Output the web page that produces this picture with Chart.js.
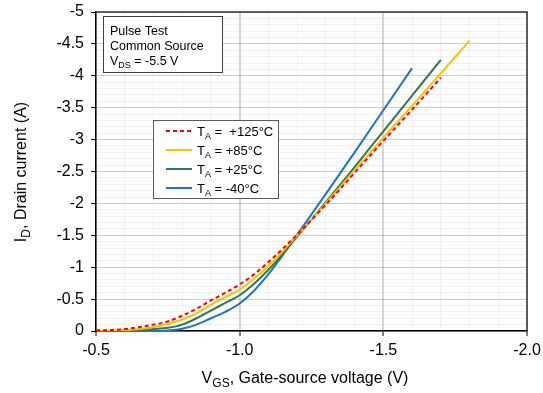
<!DOCTYPE html>
<html>
<head>
<meta charset="utf-8">
<script src="https://cdn.jsdelivr.net/npm/chart.js@4.4.0/dist/chart.umd.min.js"></script>
<style>
  html, body { margin: 0; padding: 0; background: #fff; }
  #wrap { width: 543px; height: 393px; }
</style>
</head>
<body>
<div id="wrap"><canvas id="grafico1" width="543" height="393"></canvas></div>
<script>
// gate-source voltage (V), shared by every series
const vgs = [-0.5, -0.55, -0.6, -0.65, -0.7, -0.75, -0.8, -0.85, -0.9, -0.95, -1.0,
             -1.05, -1.1, -1.15, -1.2, -1.3, -1.4, -1.5, -1.6, -1.7, -1.8];

// drain current (A) per temperature
const id125 = [-0.01, -0.015, -0.03, -0.06, -0.10, -0.15, -0.24, -0.35, -0.48, -0.60, -0.73,
               -0.89, -1.08, -1.29, -1.51, -1.98, -2.48, -2.98, -3.47, -3.97];
const id85  = [0, -0.005, -0.015, -0.03, -0.06, -0.11, -0.18, -0.28, -0.41, -0.53, -0.65,
               -0.82, -1.02, -1.25, -1.50, -2.00, -2.52, -3.03, -3.53, -4.04, -4.55];
const id25  = [0, 0, -0.005, -0.015, -0.03, -0.05, -0.10, -0.20, -0.32, -0.44, -0.56,
               -0.74, -0.96, -1.21, -1.48, -2.02, -2.57, -3.13, -3.69, -4.25];
const idM40 = [0, 0, 0, 0, 0, -0.008, -0.035, -0.10, -0.20, -0.30, -0.43,
               -0.63, -0.89, -1.19, -1.51, -2.15, -2.80, -3.46, -4.12];

const tempLabels = ['+125°C', '+85°C', '+25°C', '-40°C'];
const xTicks = [-0.5, -1.0, -1.5, -2.0];
const yTicks = [0, -0.5, -1, -1.5, -2, -2.5, -3, -3.5, -4, -4.5, -5];
const noteLines = ['Pulse Test', 'Common Source', 'V_DS = -5.5 V'];

const FONT = "'Liberation Sans', Arial, sans-serif";

function pts(vals) {
    return vals.map((v, i) => ({ x: vgs[i], y: v }));
}
function isMajor(v, step) {
    const r = v / step;
    return Math.abs(r - Math.round(r)) < 1e-6;
}

// text with "_XX" subscripts
function drawRich(ctx, str, x, y, size, align) {
    const parts = [];
    str.split(/(_[A-Z]+)/).forEach(s => {
        if (!s) return;
        if (s[0] === '_') parts.push([s.slice(1), true]);
        else parts.push([s, false]);
    });
    const subSize = Math.round(size * 0.72);
    let w = 0;
    parts.forEach(p => {
        ctx.font = (p[1] ? subSize : size) + 'px ' + FONT;
        p.push(ctx.measureText(p[0]).width);
        w += p[2];
    });
    let cx = align === 'center' ? x - w / 2 : x;
    ctx.textAlign = 'left';
    ctx.textBaseline = 'alphabetic';
    parts.forEach(p => {
        ctx.font = (p[1] ? subSize : size) + 'px ' + FONT;
        ctx.fillText(p[0], cx, p[1] ? y + size * 0.22 : y);
        cx += p[2];
    });
}

const extras = {
    id: 'extras',
    afterDraw(chart) {
        const ctx = chart.ctx;
        const a = chart.chartArea;
        ctx.save();
        // top and right frame
        ctx.strokeStyle = '#333';
        ctx.lineWidth = 1.5;
        ctx.beginPath();
        ctx.moveTo(a.left, a.top);
        ctx.lineTo(a.right, a.top);
        ctx.lineTo(a.right, a.bottom);
        ctx.stroke();

        // note box
        ctx.fillStyle = '#fff';
        ctx.fillRect(103, 16, 119, 56);
        ctx.strokeStyle = '#404040';
        ctx.lineWidth = 1;
        ctx.strokeRect(103.5, 16.5, 119, 56);
        ctx.fillStyle = '#000';
        noteLines.forEach((t, i) => drawRich(ctx, t, 110, 35 + i * 15, 12.5, 'left'));

        // legend box
        ctx.fillStyle = '#fff';
        ctx.fillRect(153, 120, 125, 78);
        ctx.strokeStyle = '#595959';
        ctx.strokeRect(153.5, 120.5, 125, 78);
        chart.data.datasets.forEach((ds, i) => {
            const y = 131 + i * 19;
            ctx.strokeStyle = ds.borderColor;
            ctx.lineWidth = 2;
            ctx.setLineDash(ds.borderDash || []);
            ctx.beginPath();
            ctx.moveTo(166, y);
            ctx.lineTo(192, y);
            ctx.stroke();
            ctx.setLineDash([]);
            ctx.fillStyle = '#000';
            const sep = i === 0 ? ' =  ' : ' = ';
            drawRich(ctx, 'T_A' + sep + tempLabels[i], 197, y + 5, 13, 'left');
        });

        // axis titles
        ctx.fillStyle = '#000';
        drawRich(ctx, 'V_GS, Gate-source voltage (V)', 305, 383, 16, 'center');
        ctx.translate(26, 172);
        ctx.rotate(-Math.PI / 2);
        drawRich(ctx, 'I_D, Drain current (A)', 0, 0, 16, 'center');
        ctx.restore();
    }
};

const colors = ['#ff0000', '#ffc000', '#2e7a4e', '#1b75c4'];
const series = [id125, id85, id25, idM40];

new Chart(document.getElementById('grafico1').getContext('2d'), {
    type: 'line',
    data: {
        datasets: series.map((s, i) => ({
            label: 'TA = ' + tempLabels[i],
            data: pts(s),
            borderColor: colors[i],
            borderWidth: 2,
            borderDash: i === 0 ? [4, 3] : [],
            pointRadius: 0,
            cubicInterpolationMode: 'monotone',
            fill: false
        }))
    },
    options: {
        responsive: false,
        animation: false,
        layout: { padding: { top: 12, right: 16, left: 0, bottom: 0 } },
        scales: {
            x: {
                type: 'linear',
                reverse: true,
                min: xTicks[xTicks.length - 1],
                max: xTicks[0],
                afterFit: s => {
                    s.height = 62;
                    s.paddingLeft = 0;
                    s.paddingRight = 0;
                },
                ticks: {
                    stepSize: 0.1,
                    autoSkip: false,
                    maxRotation: 0,
                    padding: 5,
                    color: '#000',
                    font: { family: FONT, size: 16 },
                    callback: v => isMajor(v, 0.5) ? v.toFixed(1) : ''
                },
                grid: {
                    color: c => isMajor(c.tick.value, 0.5) ? 'rgba(0,0,0,0.16)' : 'rgba(0,0,0,0.06)',
                    lineWidth: c => isMajor(c.tick.value, 0.5) ? 2 : 1,
                    tickColor: c => isMajor(c.tick.value, 0.5) ? '#000' : 'rgba(0,0,0,0)',
                    tickLength: 5,
                    tickWidth: 1
                },
                border: { color: '#000', width: 1.5 }
            },
            y: {
                type: 'linear',
                reverse: true,
                min: yTicks[yTicks.length - 1],
                max: yTicks[0],
                afterFit: s => {
                    s.width = 96;
                    s.paddingTop = 0;
                    s.paddingBottom = 0;
                },
                ticks: {
                    stepSize: 0.1,
                    autoSkip: false,
                    padding: 7,
                    color: '#000',
                    font: { family: FONT, size: 16 },
                    callback: v => isMajor(v, 0.5) ? String(Math.round(v * 10) / 10) : ''
                },
                grid: {
                    color: c => isMajor(c.tick.value, 0.5) ? 'rgba(0,0,0,0.2)' : 'rgba(0,0,0,0.055)',
                    lineWidth: 1,
                    tickColor: c => isMajor(c.tick.value, 0.5) ? '#000' : 'rgba(0,0,0,0)',
                    tickLength: 5,
                    tickWidth: 1
                },
                border: { color: '#000', width: 1.5 }
            }
        },
        plugins: {
            legend: { display: false },
            tooltip: { enabled: false }
        }
    },
    plugins: [extras]
});
</script>
</body>
</html>
